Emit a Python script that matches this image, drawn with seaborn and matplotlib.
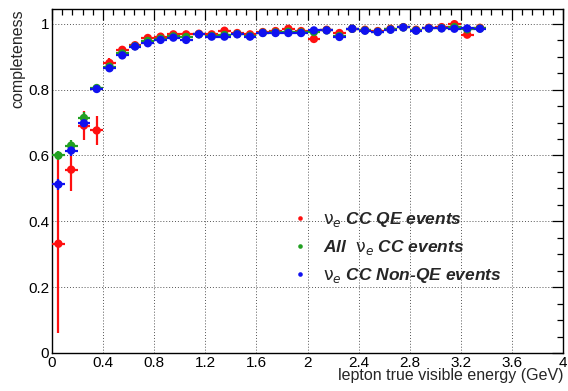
import matplotlib
matplotlib.use("Agg")
import matplotlib.pyplot as plt
import seaborn as sns
import pandas as pd
from matplotlib.ticker import MultipleLocator, FuncFormatter

# ---- data ----
energy = [0.05, 0.15, 0.25, 0.35, 0.45, 0.55, 0.65, 0.75, 0.85, 0.95,
          1.05, 1.15, 1.25, 1.35, 1.45, 1.55, 1.65, 1.75, 1.85, 1.95,
          2.05, 2.15, 2.25, 2.35, 2.45, 2.55, 2.65, 2.75, 2.85, 2.95,
          3.05, 3.15, 3.25, 3.35]
bin_halfwidth = 0.05

qe = [0.332, 0.557, 0.691, 0.676, 0.881, 0.921, 0.935, 0.957, 0.961, 0.968,
      0.968, 0.970, 0.968, 0.979, 0.972, 0.968, 0.975, 0.978, 0.985, 0.978,
      0.954, 0.982, 0.972, 0.985, 0.982, 0.978, 0.985, 0.990, 0.982, 0.988,
      0.990, 0.999, 0.967, 0.988]
qe_err = [0.270, 0.064, 0.043, 0.045, 0.015, 0.011, 0.009, 0.008, 0.007, 0.007,
          0.007, 0.007, 0.007, 0.006, 0.006, 0.006, 0.006, 0.006, 0.006, 0.006,
          0.010, 0.006, 0.006, 0.006, 0.006, 0.006, 0.006, 0.005, 0.006, 0.005,
          0.005, 0.005, 0.007, 0.006]

allcc = [0.600, 0.630, 0.714, 0.805, 0.870, 0.910, 0.932, 0.948, 0.955, 0.962,
         0.960, 0.968, 0.963, 0.966, 0.969, 0.963, 0.973, 0.974, 0.976, 0.974,
         0.975, 0.980, 0.963, 0.985, 0.980, 0.976, 0.983, 0.989, 0.980, 0.986,
         0.987, 0.990, 0.983, 0.986]
allcc_err = [0.015, 0.018, 0.018, 0.010, 0.008, 0.006, 0.005, 0.005, 0.005, 0.005,
             0.005, 0.004, 0.004, 0.004, 0.004, 0.004, 0.004, 0.004, 0.004, 0.004,
             0.004, 0.004, 0.004, 0.004, 0.004, 0.004, 0.004, 0.004, 0.004, 0.004,
             0.004, 0.004, 0.004, 0.004]

nonqe = [0.512, 0.615, 0.698, 0.802, 0.865, 0.904, 0.931, 0.941, 0.951, 0.958,
         0.951, 0.968, 0.961, 0.961, 0.968, 0.961, 0.972, 0.972, 0.972, 0.972,
         0.980, 0.980, 0.960, 0.985, 0.979, 0.975, 0.982, 0.989, 0.979, 0.986,
         0.986, 0.985, 0.986, 0.985]
nonqe_err = [0.018, 0.018, 0.022, 0.008, 0.007, 0.006, 0.005, 0.005, 0.005, 0.005,
             0.005, 0.004, 0.004, 0.004, 0.004, 0.004, 0.004, 0.004, 0.004, 0.004,
             0.004, 0.004, 0.004, 0.004, 0.004, 0.004, 0.004, 0.004, 0.004, 0.004,
             0.004, 0.004, 0.004, 0.004]

labels = [r"$\mathrm{\nu}_e$ CC QE events",
          r"All  $\mathrm{\nu}_e$ CC events",
          r"$\mathrm{\nu}_e$ CC Non-QE events"]
colors = ["#ff1010", "#22a022", "#1010f0"]

# ---- build long table ----
series = [(labels[0], qe, qe_err), (labels[1], allcc, allcc_err), (labels[2], nonqe, nonqe_err)]
rows = []
for lab, vals, errs in series:
    for e, v, er in zip(energy, vals, errs):
        rows.append({"energy": e, "completeness": v, "err": er, "sample": lab})
df = pd.DataFrame(rows)

sns.set_style("white")
plt.rcParams["font.family"] = ["Liberation Sans", "DejaVu Sans"]
plt.rcParams["mathtext.fontset"] = "dejavusans"

fig = plt.figure(figsize=(5.68, 3.91), dpi=100)
ax = fig.add_axes([52 / 568, (391 - 353) / 391, (563 - 52) / 568, (353 - 9) / 391])

for (lab, vals, errs), c in zip(series, colors):
    ax.errorbar(energy, vals, xerr=bin_halfwidth, yerr=errs, fmt="none",
                ecolor=c, elinewidth=1.6, capsize=0, zorder=3)

sns.scatterplot(data=df, x="energy", y="completeness", hue="sample",
                palette=dict(zip(labels, colors)), hue_order=labels,
                s=36, edgecolor="none", linewidth=0, ax=ax, zorder=4, legend=True)

ax.set_xlim(0, 4.0)
ax.set_ylim(0, 1.045)
ax.xaxis.set_major_locator(MultipleLocator(0.4))
ax.xaxis.set_minor_locator(MultipleLocator(0.08))
ax.yaxis.set_major_locator(MultipleLocator(0.2))
ax.yaxis.set_minor_locator(MultipleLocator(0.05))
fmt = FuncFormatter(lambda v, p: f"{v:g}")
ax.xaxis.set_major_formatter(fmt)
ax.yaxis.set_major_formatter(fmt)

ax.grid(True, which="major", linestyle=(0, (1, 2)), color="#555555", linewidth=0.7)
ax.set_axisbelow(True)
ax.tick_params(which="both", direction="in", top=True, right=True,
               colors="black", labelsize=11, width=0.9)
ax.tick_params(which="major", length=8, pad=2)
ax.tick_params(which="minor", length=4)
for sp in ax.spines.values():
    sp.set_color("black")
    sp.set_linewidth(1.0)

ax.set_xlabel("lepton true visible energy (GeV)", loc="right", fontsize=11.5, labelpad=-1)
ax.set_ylabel("completeness", loc="top", fontsize=11.5, labelpad=2)

handles, labs = ax.get_legend_handles_labels()
leg = ax.legend(handles=handles, labels=labs, loc="upper left",
                bbox_to_anchor=(0.437, 0.435), frameon=False,
                prop={"family": "Liberation Sans", "weight": "bold", "style": "italic", "size": 12.5},
                markerscale=0.55, handletextpad=0.35, labelspacing=0.5, borderaxespad=0)

fig.savefig("out.png", dpi=100, facecolor="white")
